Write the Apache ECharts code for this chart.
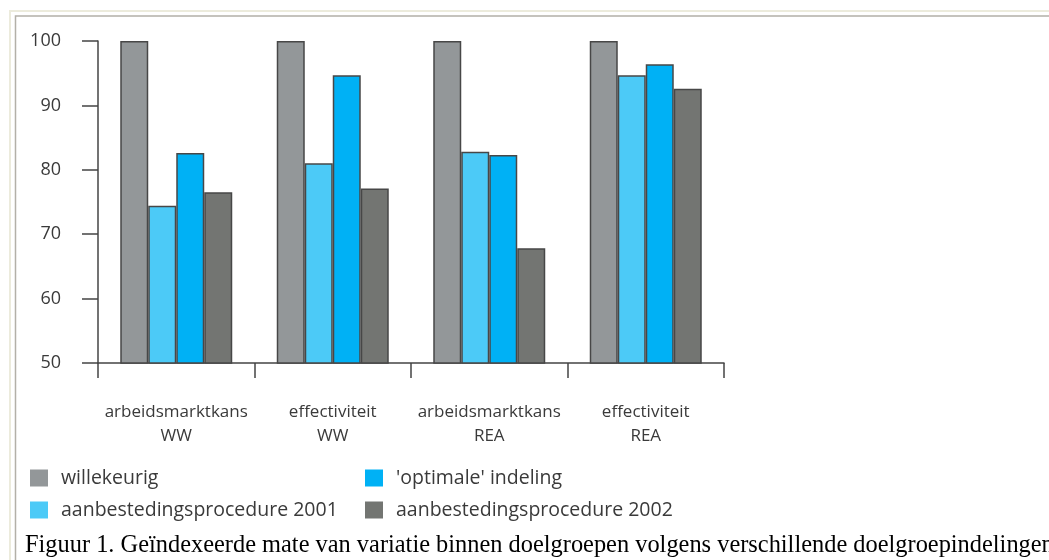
<!DOCTYPE html>
<html>
<head>
<meta charset="utf-8">
<script src="https://cdn.jsdelivr.net/npm/echarts@6/dist/echarts.min.js"></script>
<style>
html,body{margin:0;padding:0;background:#fff;}
#c{width:1049px;height:560px;}
</style>
</head>
<body>
<div id="c"></div>
<script>
const categories = ['arbeidsmarktkans\nWW', 'effectiviteit\nWW', 'arbeidsmarktkans\nREA', 'effectiviteit\nREA'];
const willekeurig = [100, 100, 100, 100];
const aanbesteding2001 = [74.4, 81.0, 82.8, 94.7];
const optimale = [82.6, 94.7, 82.3, 96.4];
const aanbesteding2002 = [76.5, 77.1, 67.8, 92.6];
const yTicks = {min: 50, max: 100, interval: 10};
const caption = 'Figuur 1. Geïndexeerde mate van variatie binnen doelgroepen volgens verschillende doelgroepindelingen';

const chart = echarts.init(document.getElementById('c'));
const border = {borderColor: '#474747', borderWidth: 1.5};
const font = 'Open Sans';
function bar(name, data, color) {
  return {name: name, type: 'bar', data: data, barWidth: 28, barGap: '0%',
    itemStyle: Object.assign({color: color}, border), animation: false};
}
chart.setOption({
  animation: false,
  title: {text: caption, left: 20, top: 529,
    textStyle: {fontFamily: 'Liberation Serif', fontSize: 24.4, fontWeight: 'normal', color: '#000'}},
  graphic: [
    {type: 'polyline', shape: {points: [[10, 560], [10, 11], [1049, 11]]}, style: {stroke: '#ecebdc', lineWidth: 2, fill: null}},
    {type: 'polyline', shape: {points: [[15.5, 560], [15.5, 16], [1049, 16]]}, style: {stroke: '#b3b0a8', lineWidth: 1.5, fill: null}}
  ],
  legend: [
    {orient: 'vertical', left: 25, top: 463, itemWidth: 18, itemHeight: 17, itemGap: 12, icon: 'rect',
      data: ['willekeurig', 'aanbestedingsprocedure 2001'],
      itemStyle: {borderWidth: 0},
      textStyle: {fontFamily: font, fontSize: 19.5, color: '#3a3a3a', padding: [0, 0, 0, 8]}},
    {orient: 'vertical', left: 360, top: 463, itemWidth: 18, itemHeight: 17, itemGap: 12, icon: 'rect',
      data: ["'optimale' indeling", 'aanbestedingsprocedure 2002'],
      itemStyle: {borderWidth: 0},
      textStyle: {fontFamily: font, fontSize: 19.5, color: '#3a3a3a', padding: [0, 0, 0, 8]}}
  ],
  grid: {left: 98, right: 325, top: 41, bottom: 197, containLabel: false},
  xAxis: {type: 'category', data: categories, boundaryGap: true,
    axisLine: {lineStyle: {color: '#444', width: 1.5}},
    axisTick: {show: true, length: 15, lineStyle: {color: '#444', width: 1.5}},
    axisLabel: {fontFamily: font, fontSize: 17, color: '#3a3a3a', margin: 37, lineHeight: 24, interval: 0}},
  yAxis: {type: 'value', min: yTicks.min, max: yTicks.max, interval: yTicks.interval,
    splitLine: {show: false},
    axisLine: {show: true, lineStyle: {color: '#444', width: 1.5}},
    axisTick: {show: true, length: 16, lineStyle: {color: '#444', width: 1.5}},
    axisLabel: {fontFamily: font, fontSize: 18, color: '#3a3a3a', margin: 37}},
  series: [
    bar('willekeurig', willekeurig, '#939799'),
    bar('aanbestedingsprocedure 2001', aanbesteding2001, '#4ccaf7'),
    bar("'optimale' indeling", optimale, '#00b1f5'),
    bar('aanbestedingsprocedure 2002', aanbesteding2002, '#737572')
  ]
});
</script>
</body>
</html>
